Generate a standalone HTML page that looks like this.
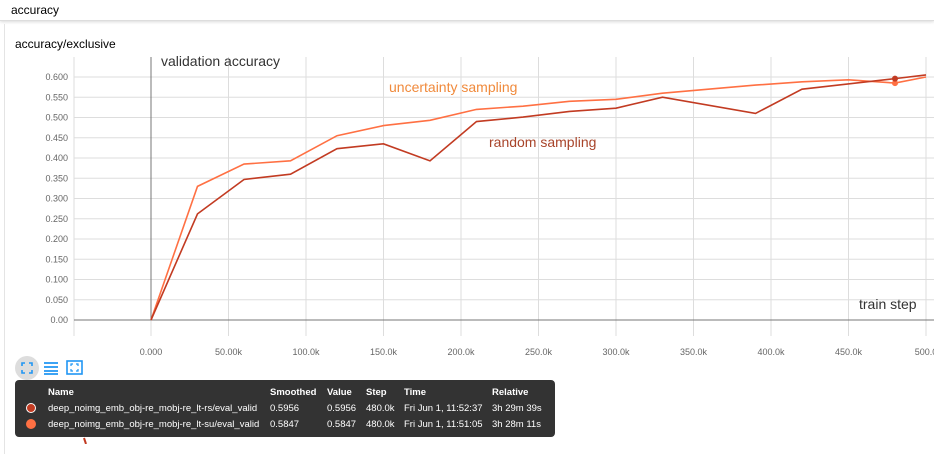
<!DOCTYPE html>
<html><head><meta charset="utf-8"><style>
body{margin:0;width:934px;height:444px;overflow:hidden;background:#fff;font-family:"Liberation Sans",sans-serif;position:relative}
.hdr{position:absolute;left:0;top:0;width:934px;height:21px;border-bottom:1px solid #ddd;box-shadow:0 1px 3px rgba(0,0,0,.15);font-size:12px;line-height:20px;padding-left:11px;box-sizing:border-box}
.card{position:absolute;left:4px;top:24px;width:940px;height:430px;border-left:1px solid #e4e4e4}
.ttl{position:absolute;left:15px;top:37px;font-size:12px}
.tip{position:absolute;left:15px;top:380px;width:540px;height:57px;background:#333;border-radius:4px;color:#fff;font-size:9.5px}
.tip div{position:absolute;white-space:nowrap}
.b{font-weight:bold}
.dot{width:10px;height:10px;border-radius:50%;border:1.5px solid #fff;box-sizing:border-box}
</style></head><body>
<div class="hdr">accuracy</div>
<div class="card"></div>
<div class="ttl">accuracy/exclusive</div>
<svg id="chart" width="934" height="444" style="position:absolute;left:0;top:0"></svg>
<div style="position:absolute;left:15px;top:356px;width:24px;height:24px;border-radius:50%;background:#ddd"><svg width="24" height="24"><path d="M7 10V7h3M14 7h3v3M17 14v3h-3M10 17H7v-3" stroke="#2196f3" stroke-width="1.6" fill="none"/></svg></div>
<svg style="position:absolute;left:43px;top:361px" width="16" height="14"><path d="M1 2h14M1 6h14M1 10h14M1 13h14" stroke="#2196f3" stroke-width="1.8"/></svg>
<svg style="position:absolute;left:66px;top:360px" width="18" height="16"><rect x="1" y="1" width="15" height="13" fill="none" stroke="#2196f3" stroke-width="1.6"/><path d="M5 6V4h2M12 6V4h-2M5 9v2h2M12 9v2h-2" stroke="#2196f3" stroke-width="1.2" fill="none"/></svg>
<div style="position:absolute;left:16px;top:388px;font-size:11px;color:#222">accuracy/positive_threshold_0.5/rule_based</div>
<div class="tip">
<div class="b" style="left:33px;top:7px">Name</div><div class="b" style="left:255px;top:7px">Smoothed</div><div class="b" style="left:312px;top:7px">Value</div><div class="b" style="left:351px;top:7px">Step</div><div class="b" style="left:389px;top:7px">Time</div><div class="b" style="left:477px;top:7px">Relative</div>
<div class="dot" style="left:11px;top:23px;background:#c23b22"></div>
<div style="left:33px;top:23px">deep_noimg_emb_obj-re_mobj-re_lt-rs/eval_valid</div><div style="left:255px;top:23px">0.5956</div><div style="left:312px;top:23px">0.5956</div><div style="left:351px;top:23px">480.0k</div><div style="left:389px;top:23px">Fri Jun 1, 11:52:37</div><div style="left:477px;top:23px">3h 29m 39s</div>
<div class="dot" style="left:11px;top:39px;background:#ff7043;border-color:#ff7043"></div>
<div style="left:33px;top:39px">deep_noimg_emb_obj-re_mobj-re_lt-su/eval_valid</div><div style="left:255px;top:39px">0.5847</div><div style="left:312px;top:39px">0.5847</div><div style="left:351px;top:39px">480.0k</div><div style="left:389px;top:39px">Fri Jun 1, 11:51:05</div><div style="left:477px;top:39px">3h 28m 11s</div>
</div>
<script>
const steps=[0,30,60,90,120,150,180,210,240,270,300,330,390,420,480,500];
const randomVals=[0,0.262,0.347,0.36,0.423,0.435,0.393,0.49,0.501,0.515,0.523,0.55,0.51,0.57,0.596,0.605];
const stepsSu=[0,30,60,90,120,150,180,210,240,270,300,330,390,420,450,480,500];
const uncertVals=[0,0.33,0.385,0.393,0.455,0.48,0.493,0.52,0.528,0.54,0.545,0.56,0.58,0.588,0.593,0.585,0.6];
const yTicks=[0,0.05,0.1,0.15,0.2,0.25,0.3,0.35,0.4,0.45,0.5,0.55,0.6];
const xTicks=[0,50,100,150,200,250,300,350,400,450,500];
const xLabels=["0.000","50.00k","100.0k","150.0k","200.0k","250.0k","300.0k","350.0k","400.0k","450.0k","500.0"];
const NS="http://www.w3.org/2000/svg",svg=document.getElementById('chart');
const X=v=>151+v*1.55, Y=v=>320-v*405;
function el(t,a,txt){const e=document.createElementNS(NS,t);for(const k in a)e.setAttribute(k,a[k]);if(txt!=null)e.textContent=txt;svg.appendChild(e);return e;}
yTicks.forEach(v=>{const e=el('line',{x1:74,x2:934,y1:Y(v),y2:Y(v),stroke:'#ddd'});


const t=el('text',{x:68,y:Y(v)+3,'text-anchor':'end','font-size':9,fill:'#666'},v.toFixed(3).replace(/^0\.000$/,'0.00'));

});
xTicks.forEach((v,i)=>{const e=el('line',{x1:X(v),x2:X(v),y1:57,y2:336,stroke:'#ddd'});


const t=el('text',{x:X(v),y:355,'text-anchor':'middle','font-size':9,fill:'#666'},xLabels[i]);

});
const yl=el('line',{x1:74,x2:74,y1:57,y2:336,stroke:'#ddd'});


const ax=el('line',{x1:X(0),x2:X(0),y1:57,y2:320,stroke:'#777'});


const xa=el('line',{x1:74,x2:934,y1:Y(0),y2:Y(0),stroke:'#777'});


function line(xs,vs,c,name){const p=el('polyline',{points:xs.map((s,i)=>X(s)+','+Y(vs[i])).join(' '),fill:'none',stroke:c,'stroke-width':1.6});


const i=xs.indexOf(480);const d=el('circle',{cx:X(480),cy:Y(vs[i]),r:3,fill:c});

}
line(stepsSu,uncertVals,'#ff7043','uncertainty-sampling-line');
line(steps,randomVals,'#c23b22','random-sampling-line');
let t=el('text',{x:161,y:66,'font-size':14,fill:'#333'},'validation accuracy');
t=el('text',{x:389,y:92,'font-size':14,fill:'#f08a3c'},'uncertainty sampling');
t=el('text',{x:489,y:147,'font-size':14,fill:'#a8442a'},'random sampling');
t=el('text',{x:859,y:309,'font-size':14,fill:'#333'},'train step');
const r=el('line',{x1:84,y1:438,x2:86,y2:444,stroke:'#c23b22','stroke-width':2});
</script>
</body></html>
